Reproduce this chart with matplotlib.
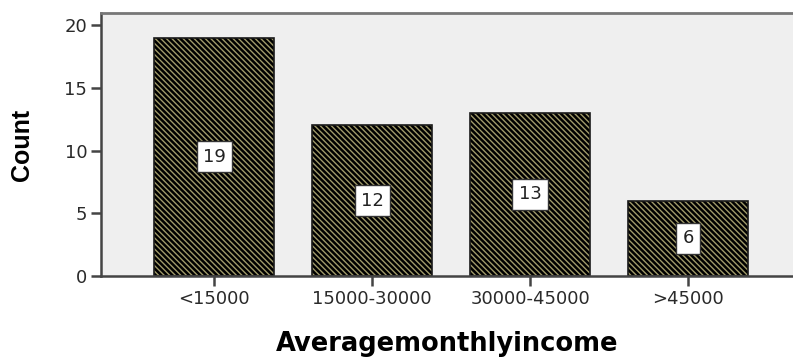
import matplotlib
matplotlib.use("Agg")
import matplotlib.pyplot as plt

categories = ["<15000", "15000-30000", "30000-45000", ">45000"]
counts = [19, 12, 13, 6]
y_ticks = [0, 5, 10, 15, 20]

plt.rcParams["hatch.linewidth"] = 1.0

fig = plt.figure(figsize=(7.93, 3.59), dpi=100)
ax = fig.add_axes([0.1274, 0.2312, 0.8726, 0.7326])
ax.set_facecolor("#efefef")

x = list(range(len(categories)))
# hatched fill (hatch takes the edge colour), then a dark outline on top
ax.bar(x, counts, width=0.76, color="black", edgecolor="#a09a6a",
       linewidth=0, hatch="\\" * 6, zorder=2)
ax.bar(x, counts, width=0.76, fill=False, edgecolor="#1a1a1a",
       linewidth=1.2, zorder=2.5)

for xi, v in zip(x, counts):
    ax.text(xi, v / 2, str(v), ha="center", va="center", fontsize=13,
            family="DejaVu Sans", color="#222222", zorder=3,
            bbox=dict(boxstyle="square,pad=0.35", facecolor="white",
                      edgecolor="#333333", linewidth=1.0))

ax.set_xlim(-0.718, 3.665)
ax.set_ylim(0, 20.96)
ax.set_xticks(x)
ax.set_xticklabels(categories, fontsize=13, family="DejaVu Sans", color="#2a2a2a")
ax.set_yticks(y_ticks)
ax.set_yticklabels([str(t) for t in y_ticks], fontsize=13, family="DejaVu Sans",
                   color="#2a2a2a")
ax.tick_params(axis="both", direction="out", length=7, width=1.8, color="#444444",
               pad=3)

for side in ("left", "bottom"):
    ax.spines[side].set_color("#444444")
    ax.spines[side].set_linewidth(1.8)
ax.spines["top"].set_color("#777777")
ax.spines["top"].set_linewidth(2.0)
ax.spines["right"].set_visible(False)

ax.set_ylabel("Count", fontsize=18, fontweight="bold", family="Liberation Sans",
              color="black", labelpad=22)
ax.set_xlabel("Averagemonthlyincome", fontsize=18.5, fontweight="bold",
              family="DejaVu Sans", color="black", labelpad=17)

fig.savefig("out.png", dpi=100)
